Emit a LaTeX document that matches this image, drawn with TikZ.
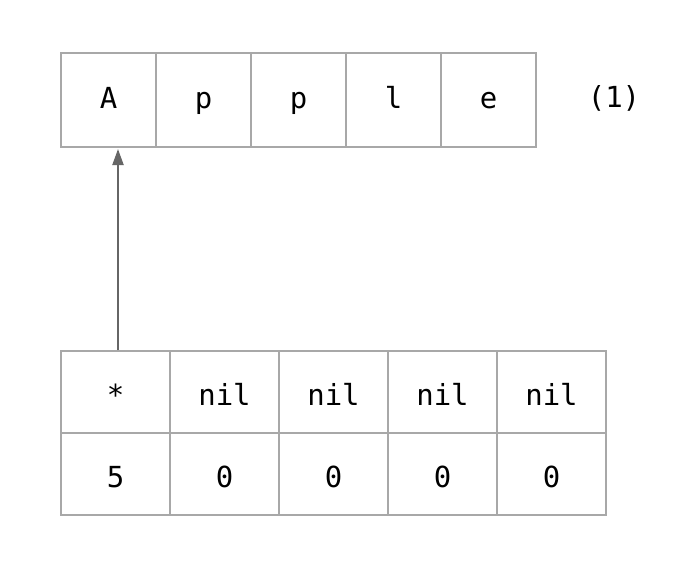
\documentclass[tikz,border=0pt]{standalone}
\usepackage{fontspec}
\setmonofont{DejaVu Sans Mono}
\usetikzlibrary{arrows.meta,calc}
\definecolor{cellline}{HTML}{A8A8A8}
\definecolor{arrowc}{HTML}{666666}
\tikzset{
  celltext/.style={font=\ttfamily\fontsize{29}{29}\selectfont},
  topcell/.style={celltext, text height=21.2pt, text depth=5pt, draw=cellline, line width=2pt, minimum width=95pt, minimum height=94pt, inner sep=0pt, anchor=north west},
  botcell/.style={celltext, text height=27pt, text depth=0pt, draw=cellline, line width=2pt, minimum width=109pt, minimum height=82pt, inner sep=0pt, anchor=north west},
  ptr/.style={draw=arrowc, line width=2pt, -{Triangle[length=16pt,width=11pt]}}
}
\begin{document}
\begin{tikzpicture}[x=1pt,y=-1pt]
\useasboundingbox[fill=white] (0,0) rectangle (684,566);
\node[topcell] (t1) at (60,52) {A};
\node[topcell] (t2) at (155,52) {p};
\node[topcell] (t3) at (250,52) {p};
\node[topcell] (t4) at (345,52) {l};
\node[topcell] (t5) at (440,52) {e};
\node[celltext, inner sep=0pt, anchor=base] (lbl) at (614,107) {(1)};
\node[botcell] (p1) at (60,350) {*};
\node[botcell] (p2) at (169,350) {nil};
\node[botcell] (p3) at (278,350) {nil};
\node[botcell] (p4) at (387,350) {nil};
\node[botcell] (p5) at (496,350) {nil};
\node[botcell] (c1) at (60,432) {5};
\node[botcell] (c2) at (169,432) {0};
\node[botcell] (c3) at (278,432) {0};
\node[botcell] (c4) at (387,432) {0};
\node[botcell] (c5) at (496,432) {0};
\coordinate (pa) at ($(p1.north west)+(58,0)$);
\draw[ptr] (pa) -- ($(pa |- t1.south)+(0,1)$);
\end{tikzpicture}
\end{document}
